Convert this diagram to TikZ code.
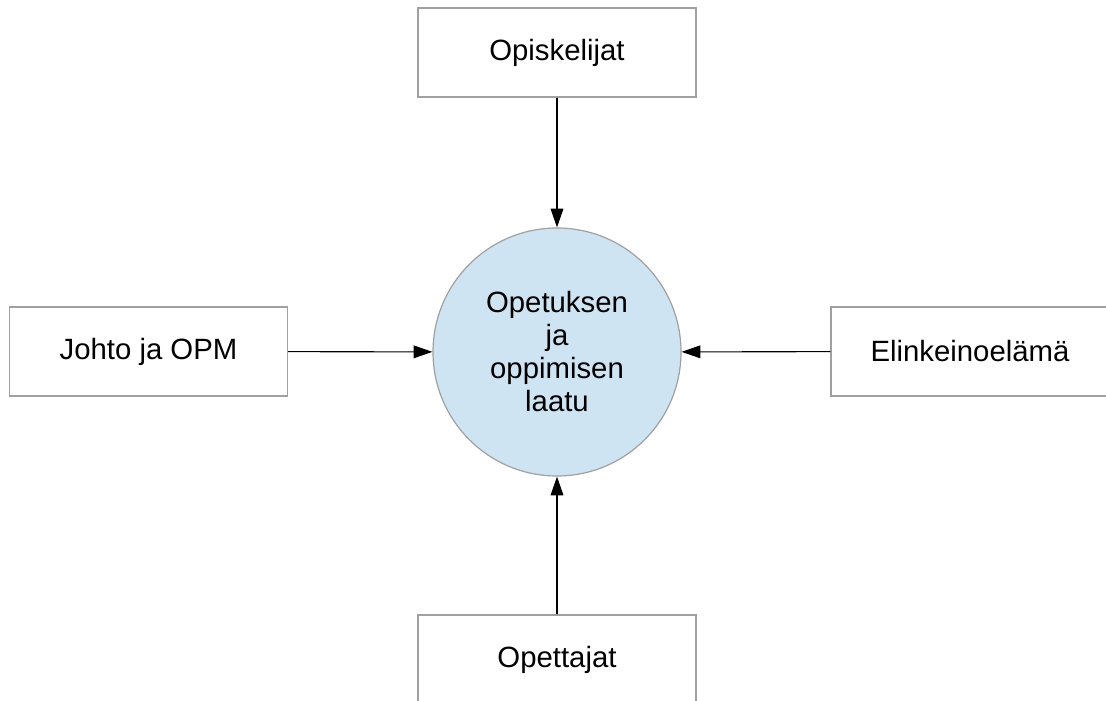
\documentclass[tikz,border=0pt]{standalone}
\usepackage{fontspec}
\setmainfont{Liberation Sans}
\usetikzlibrary{arrows.meta}
\definecolor{boxline}{HTML}{A0A0A0}
\definecolor{circfill}{HTML}{CFE4F2}
\begin{document}
\begin{tikzpicture}[x=0.75pt,y=-0.75pt,
  box/.style={draw=boxline,line width=0.9pt,fill=white,minimum width=208.5pt,minimum height=66.75pt,inner sep=0pt,font=\fontsize{22}{25}\selectfont},
  hub/.style={circle,draw=boxline,line width=0.9pt,fill=circfill,minimum size=186pt,inner sep=0pt,align=center,font=\fontsize{22}{24.75}\selectfont},
  conn/.style={draw=black,line width=0.8pt,-{Triangle[length=14pt,width=9.5pt]}}]
\useasboundingbox (0,0) rectangle (1106,700);
\fill[white] (0,0) rectangle (1106,700);
\node[hub] (c) at (557,352) {Opetuksen\\ja\\oppimisen\\laatu};
\node[box] (top) at (557,52.5) {Opiskelijat};
\node[box] (left) at (148.5,351.5) {Johto ja OPM};
\node[box] (right) at (970,351.5) {Elinkeinoelämä};
\node[box] (bottom) at (557,659.5) {Opettajat};
\draw[conn] (top) -- (c);
\draw[conn] (left) -- (c);
\draw[conn] (right) -- (c);
\draw[conn] (bottom) -- (c);
\end{tikzpicture}
\end{document}
